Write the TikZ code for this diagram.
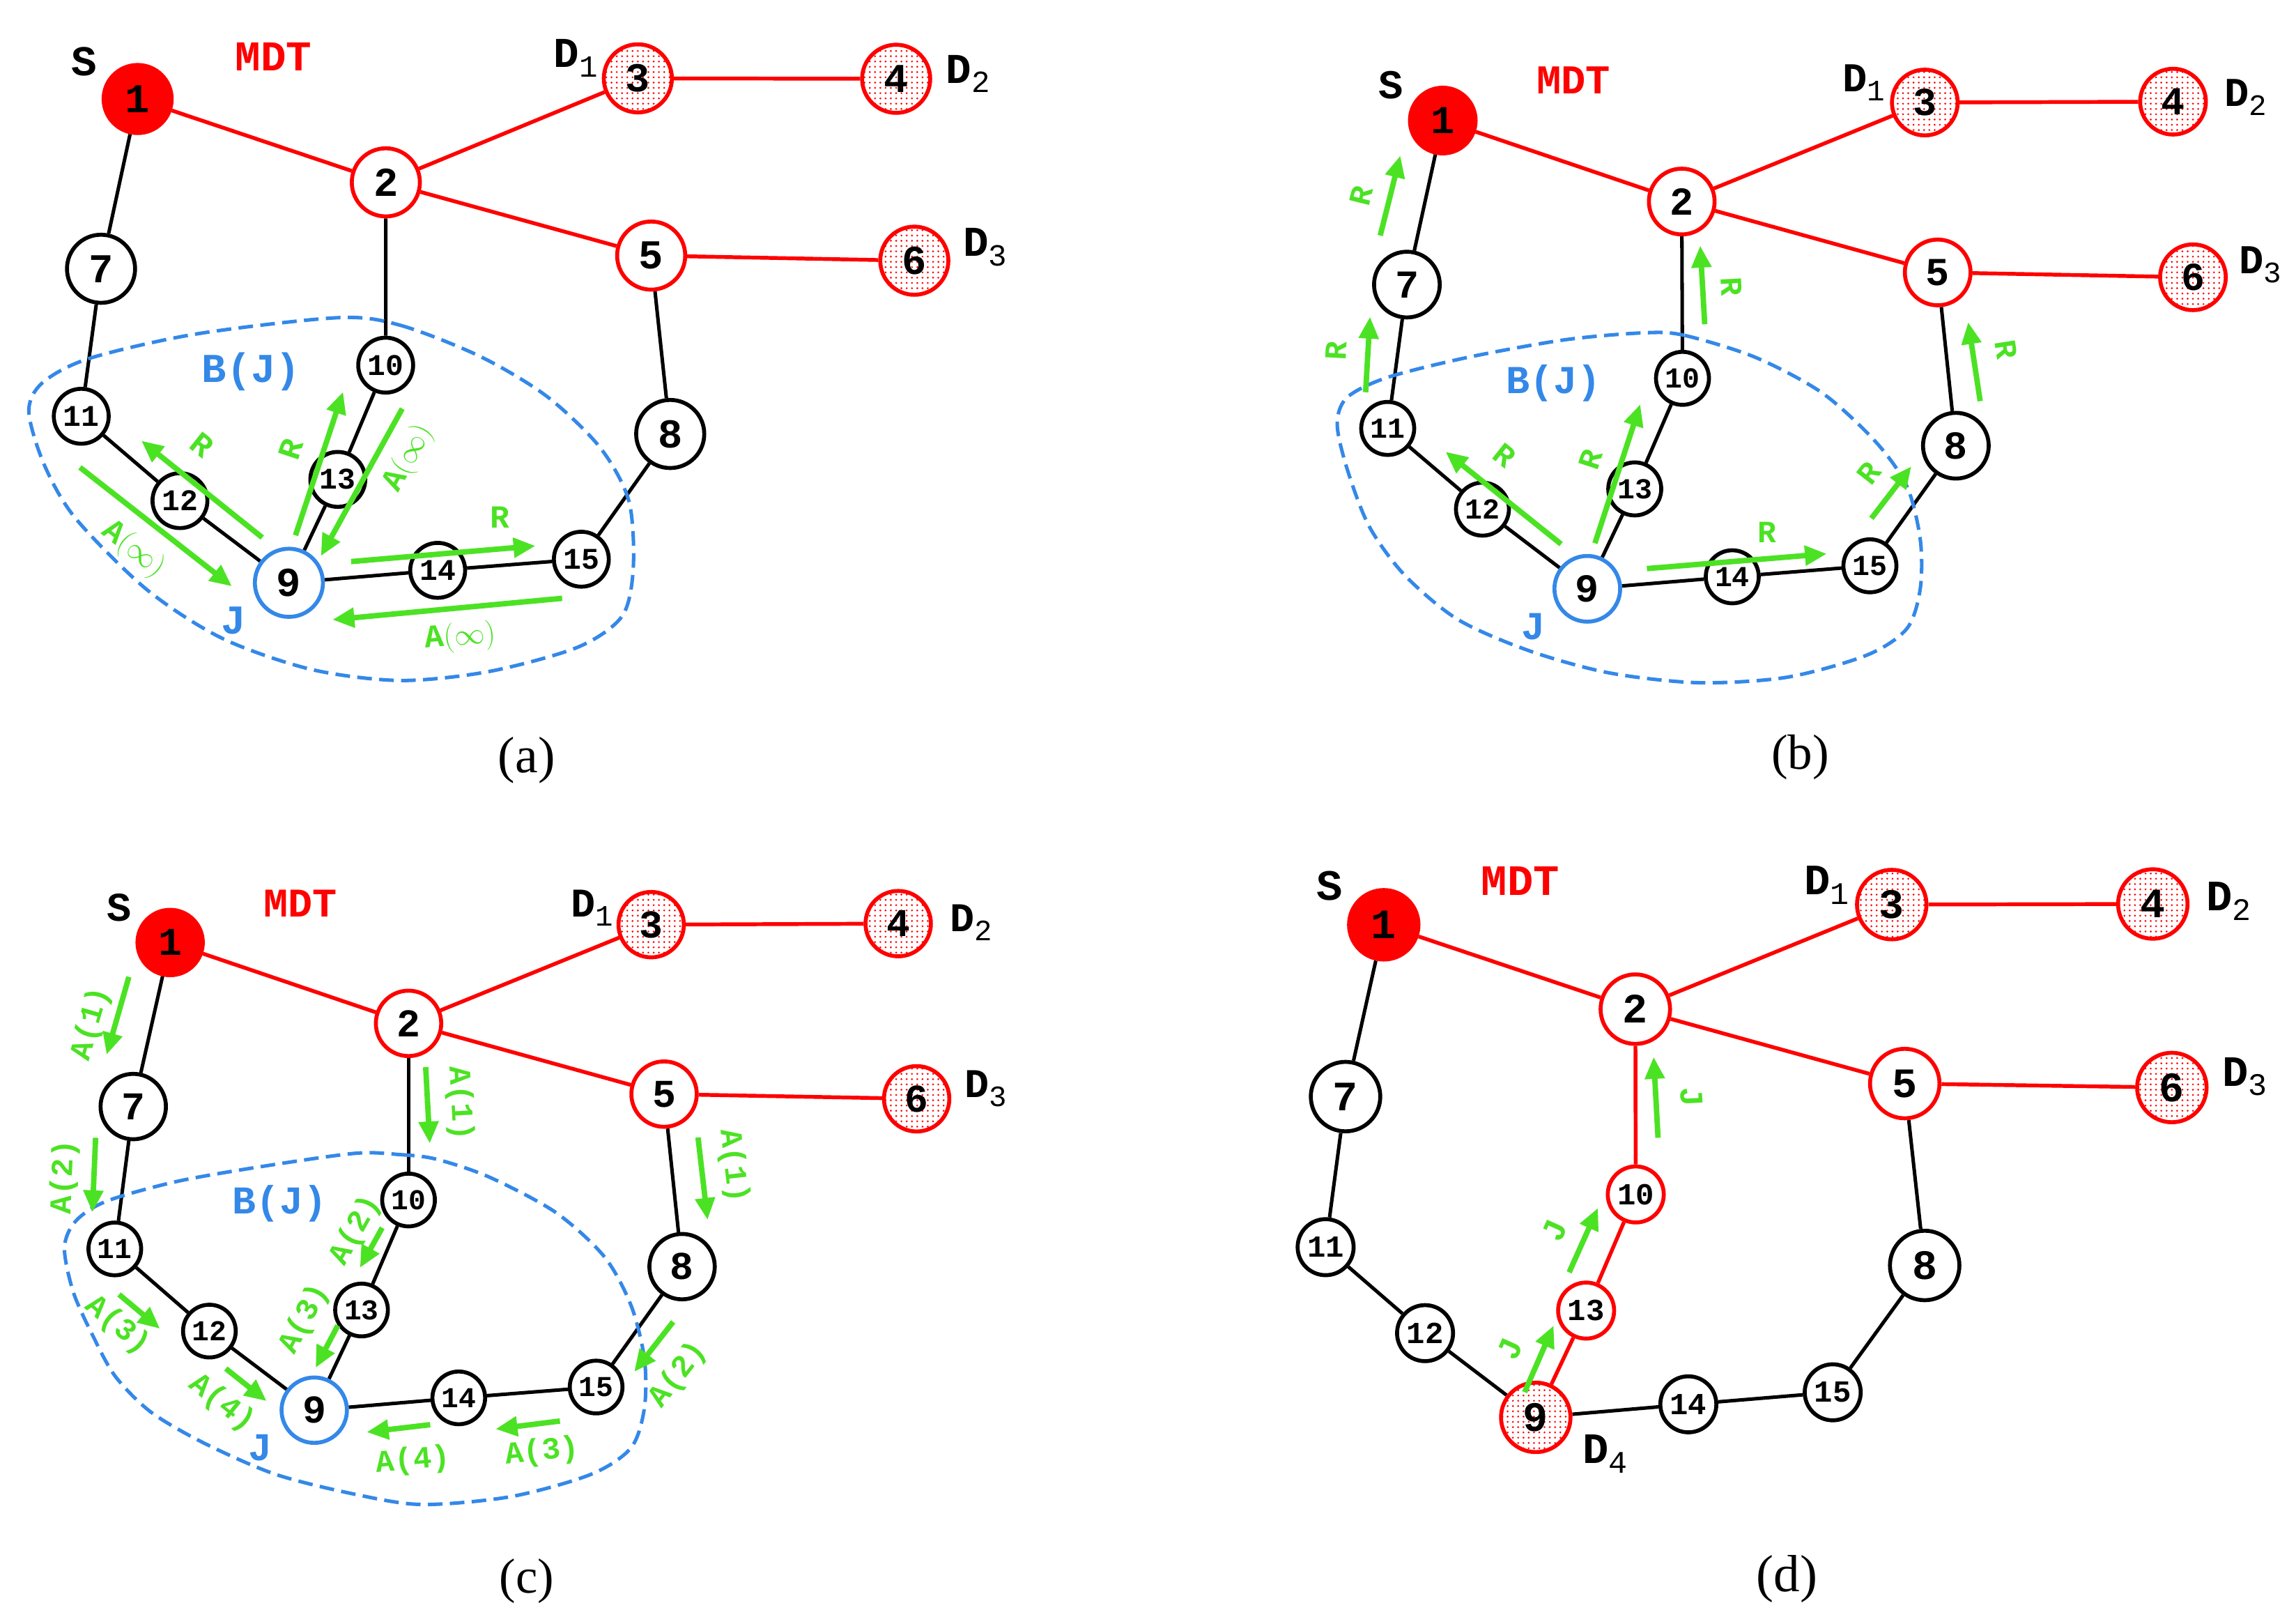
\documentclass[tikz,border=0pt]{standalone}
\usepackage{fontspec}
\setmonofont{Liberation Mono}
\newfontfamily\capfont{Liberation Serif}
\usetikzlibrary{arrows.meta,patterns.meta}
\definecolor{ggreen}{RGB}{76,226,36}
\definecolor{jblue}{RGB}{52,136,232}
\pgfdeclarelayer{bg}
\pgfdeclarelayer{mid}
\pgfsetlayers{bg,mid,main}
\newcommand\dsub[1]{\raisebox{-6.5pt}{\mdseries\fontsize{21}{21}\selectfont#1}}
\newcommand\garr[6]{%
  \coordinate (#1s) at (#2); \coordinate (#1e) at (#3);
  \draw[garrow] (#1s) -- (#1e);
  \node[glabel, rotate=#5] (#1l) at (#4) {#6};}
\newcommand\commonedges[1]{%
  \begin{pgfonlayer}{bg}
  \draw[redge] (#11) -- (#12);
  \draw[redge] (#12) -- (#13);
  \draw[redge] (#13) -- (#14);
  \draw[redge] (#12) -- (#15);
  \draw[redge] (#15) -- (#16);
  \draw[bedge] (#11) -- (#17);
  \draw[bedge] (#17) -- (#111);
  \draw[bedge] (#111) -- (#112);
  \draw[bedge] (#112) -- (#19);
  \draw[bedge] (#19) -- (#114);
  \draw[bedge] (#114) -- (#115);
  \draw[bedge] (#115) -- (#18);
  \draw[bedge] (#18) -- (#15);
  \end{pgfonlayer}}
\tikzset{
  big/.style={circle, draw=black, line width=2.7pt, minimum size=46.5pt, inner sep=0pt, fill=white,
    font=\ttfamily\bfseries\fontsize{28}{28}\selectfont},
  small/.style={big, minimum size=37.5pt, font=\ttfamily\bfseries\fontsize{20.5}{20.5}\selectfont},
  srcnode/.style={fill=red, draw=red},
  rednode/.style={draw=red},
  dstnode/.style={draw=red, pattern={Dots[distance=3.6pt, radius=0.7pt]}, pattern color=red},
  bluenode/.style={draw=jblue},
  bedge/.style={line width=2.4pt, black},
  redge/.style={line width=2.6pt, red},
  garrow/.style={line width=3.7pt, draw=ggreen, -{Triangle[length=15pt, width=13pt]}},
  glabel/.style={text=ggreen, inner sep=0pt, font=\ttfamily\bfseries\fontsize{22}{22}\selectfont},
  blab/.style={text=black, inner sep=0pt, font=\ttfamily\bfseries\fontsize{29}{29}\selectfont},
  mdt/.style={blab, text=red},
  bj/.style={text=jblue, inner sep=0pt, font=\ttfamily\bfseries\fontsize{28}{28}\selectfont},
  capt/.style={inner sep=0pt, font=\capfont\fontsize{35}{35}\selectfont},
  region/.style={draw=jblue, line width=2.4pt, dash pattern=on 10pt off 5pt}
}
\begin{document}
\begin{tikzpicture}[x=1pt, y=-1pt]
\useasboundingbox (0,0) rectangle (1568,1104);

% ================= panel (a) =================
\begin{scope}
\node[big,srcnode] (a1) at (94,67.6) {1};
\node[big,rednode] (a2) at (263.5,124.5) {2};
\node[big,dstnode] (a3) at (435.6,53.5) {3};
\node[big,dstnode] (a4) at (612,53.8) {4};
\node[big,rednode] (a5) at (444.7,174.5) {5};
\node[big,dstnode] (a6) at (624.4,178) {6};
\node[big] (a7) at (69,183.5) {7};
\node[big] (a8) at (457.7,296.3) {8};
\node[big,bluenode] (a9) at (197.3,397.9) {9};
\node[small] (a10) at (263.4,249.3) {10};
\node[small] (a11) at (55.5,284.2) {11};
\node[small] (a12) at (122.9,341.8) {12};
\node[small] (a13) at (230.7,327.3) {13};
\node[small] (a14) at (298.9,389.4) {14};
\node[small] (a15) at (397,381.8) {15};
\commonedges{a}
\begin{pgfonlayer}{bg}
\draw[bedge] (a9) -- (a13);
\draw[bedge] (a13) -- (a10);
\draw[bedge] (a10) -- (a2);
\end{pgfonlayer}
\begin{pgfonlayer}{mid}
\draw[region] plot[smooth cycle] coordinates {(230.7,216.9) (273.1,222) (327.8,243.3) (373.3,270.5) (409.7,305.4) (429.4,341.8) (432.5,387.3) (424.9,420.6) (394.5,441.9) (333.8,458.5) (273.1,464.6) (212.4,457) (151.7,435.8) (100.2,402.5) (51.6,353.9) (30.3,317.5) (19.7,281.2) (28.8,261.5) (60.7,244.8) (133.5,228.1)};
\end{pgfonlayer}
\node[blab] (aS) at (57.6,42) {S};
\node[mdt] (aM) at (186.7,38.7) {MDT};
\node[blab,anchor=base west] (aD1) at (378,46) {D\dsub{1}};
\node[blab,anchor=base west] (aD2) at (646,56.7) {D\dsub{2}};
\node[blab,anchor=base west] (aD3) at (657.5,175.1) {D\dsub{3}};
\node[bj] (aB) at (171.5,253.9) {B(J)};
\node[bj] (aJ) at (159.3,423.7) {J};
\node[capt] (aC) at (359.6,519.2) {(a)};
\garr{ga1}{179.1,367}{96.5,300.9}{138.1,303.9}{-38.7}{R}
\garr{ga2}{54.6,319.1}{158.4,400.3}{91,375.2}{-38}{A$(\infty)$}
\garr{ga3}{201.8,365.5}{234.3,267.5}{198.8,306.9}{71.7}{R}
\garr{ga4}{274.7,279}{219.1,379.7}{279.2,313}{61}{A$(\infty)$}
\garr{ga5}{239.8,383.4}{365.7,372.7}{341.4,353}{0}{R}
\garr{ga6}{383.9,408.5}{227,423.1}{314.1,435.2}{5}{A$(\infty)$}
\end{scope}

% ================= panel (b) =================
\begin{scope}[every node/.append style={scale=0.965}]
\node[big,srcnode] (b1) at (985.3,82.3) {1};
\node[big,rednode] (b2) at (1148.5,137.6) {2};
\node[big,dstnode] (b3) at (1314.5,70) {3};
\node[big,dstnode] (b4) at (1484,69.4) {4};
\node[big,rednode] (b5) at (1323.3,186) {5};
\node[big,dstnode] (b6) at (1497.6,189.3) {6};
\node[big] (b7) at (960.8,194.3) {7};
\node[big] (b8) at (1335.7,304.3) {8};
\node[big,bluenode] (b9) at (1084,402) {9};
\node[small] (b10) at (1149,258.3) {10};
\node[small] (b11) at (947.7,292.5) {11};
\node[small] (b12) at (1012.4,347.6) {12};
\node[small] (b13) at (1116.4,333.8) {13};
\node[small] (b14) at (1183,393.8) {14};
\node[small] (b15) at (1277,386.3) {15};
\commonedges{b}
\begin{pgfonlayer}{bg}
\draw[bedge] (b9) -- (b13);
\draw[bedge] (b13) -- (b10);
\draw[bedge] (b10) -- (b2);
\end{pgfonlayer}
\begin{pgfonlayer}{mid}
\draw[region] plot[smooth cycle] coordinates {(1123.2,227.2) (1150.5,229) (1199.1,244.1) (1244.6,268.4) (1281,301.7) (1302.3,332.1) (1311.4,368.4) (1311.4,401.8) (1302.3,429.1) (1274.9,447.3) (1220.3,462.4) (1159.6,466.1) (1098.9,459.4) (1044.3,444.3) (995.7,423) (959.3,392.7) (935,359.3) (919.9,319.9) (913.2,289.6) (919.9,271.4) (947.2,257.8) (1001.8,244.1) (1068.6,232)};
\end{pgfonlayer}
\node[blab] (bS) at (950,58) {S};
\node[mdt] (bM) at (1074.5,54.7) {MDT};
\node[blab,anchor=base west] (bD1) at (1258,62.7) {D\dsub{1}};
\node[blab,anchor=base west] (bD2) at (1519,72.7) {D\dsub{2}};
\node[blab,anchor=base west] (bD3) at (1529,186.8) {D\dsub{3}};
\node[bj] (bB) at (1061,261.7) {B(J)};
\node[bj] (bJ) at (1047.3,427.6) {J};
\node[capt] (bC) at (1229.4,517) {(b)};
\garr{gb1}{942.6,160.8}{956.3,106.2}{929.6,133.5}{76}{R}
\garr{gb2}{932.6,267.8}{935.6,216.2}{912.3,239.6}{87}{R}
\garr{gb3}{1164.2,221.4}{1161.1,167.7}{1182.4,195.6}{-87}{R}
\garr{gb4}{1352.3,273.9}{1344.1,219.9}{1370.3,238.5}{-81}{R}
\garr{gb5}{1066.1,371.5}{987.2,308.4}{1027.6,310.8}{-38.6}{R}
\garr{gb6}{1089.2,370.9}{1120.2,276}{1086.2,313.9}{72}{R}
\garr{gb7}{1124.7,388.2}{1247.6,378.1}{1206.6,363.3}{0}{R}
\garr{gb8}{1278,353.9}{1305.3,318.4}{1276.5,323}{52}{R}
\end{scope}

% ================= panel (c) =================
\begin{scope}[every node/.append style={scale=0.96}]
\node[big,srcnode] (c1) at (116.2,643.5) {1};
\node[big,rednode] (c2) at (279,698.7) {2};
\node[big,dstnode] (c3) at (444.7,631.3) {3};
\node[big,dstnode] (c4) at (613.4,630.6) {4};
\node[big,rednode] (c5) at (453.5,747) {5};
\node[big,dstnode] (c6) at (626,750.2) {6};
\node[big] (c7) at (91,755.5) {7};
\node[big] (c8) at (465.8,864.8) {8};
\node[big,bluenode] (c9) at (214.6,962.8) {9};
\node[small] (c10) at (279,819.3) {10};
\node[small] (c11) at (78.4,852.7) {11};
\node[small] (c12) at (143,908.8) {12};
\node[small] (c13) at (246.9,894.4) {13};
\node[small] (c14) at (313.3,954.4) {14};
\node[small] (c15) at (407.1,947) {15};
\commonedges{c}
\begin{pgfonlayer}{bg}
\draw[bedge] (c9) -- (c13);
\draw[bedge] (c13) -- (c10);
\draw[bedge] (c10) -- (c2);
\end{pgfonlayer}
\begin{pgfonlayer}{mid}
\draw[region] plot[smooth cycle] coordinates {(242.8,787.4) (273.1,788.3) (297.4,791.3) (333.8,803.5) (379.4,827.7) (412.7,858) (431,891.4) (440.1,927.8) (440.1,961.1) (431,988.4) (403.6,1006.6) (349,1021.8) (288.3,1027.2) (242.8,1020.3) (188.2,1006.6) (139.6,985.4) (103.2,964.2) (78.9,939.9) (63.7,912.6) (50.1,882.3) (44,852) (51.6,833.8) (72.8,820.1) (121.4,806.5) (182.1,795.9)};
\end{pgfonlayer}
\node[blab] (cS) at (81.6,619.7) {S};
\node[mdt] (cM) at (205.1,616.6) {MDT};
\node[blab,anchor=base west] (cD1) at (389.6,626) {D\dsub{1}};
\node[blab,anchor=base west] (cD2) at (648.5,635.9) {D\dsub{2}};
\node[blab,anchor=base west] (cD3) at (658.5,749.2) {D\dsub{3}};
\node[bj] (cB) at (191.2,821.7) {B(J)};
\node[bj] (cJ) at (177.5,988.4) {J};
\node[capt] (cC) at (359.6,1079.4) {(c)};
\garr{gc1}{88,667}{72.8,720.1}{62.2,698.9}{74}{A(1)}
\garr{gc2}{65.3,776.8}{63.1,827.7}{44,803.5}{87.5}{A(2)}
\garr{gc3}{290.7,728.6}{293.5,780.7}{314.1,753.4}{-87}{A(1)}
\garr{gc4}{476.7,776.6}{483.2,832.9}{500.8,796}{-83.4}{A(1)}
\garr{gc5}{261,838.3}{245.8,865.6}{242.8,839.9}{61}{A(2)}
\garr{gc6}{230.7,905}{215.5,933.9}{207.9,900.5}{62}{A(3)}
\garr{gc7}{81.3,883.8}{109.3,907.2}{80.4,905}{-40}{A(3)}
\garr{gc8}{154.2,934.4}{182.1,956.6}{151.7,958.1}{-38.5}{A(4)}
\garr{gc9}{293.8,972.7}{250.4,977.8}{282.2,997.5}{5}{A(4)}
\garr{gc10}{382.4,970.2}{338.4,975.7}{370.3,991.5}{6}{A(3)}
\garr{gc11}{459.7,902.5}{433.1,936.6}{463.2,938.4}{52}{A(2)}
\end{scope}

% ================= panel (d) =================
\begin{scope}[every node/.append style={scale=1.02}]
\node[big,srcnode] (d1) at (945,631.4) {1};
\node[big,rednode] (d2) at (1116.8,689) {2};
\node[big,dstnode] (d3) at (1291.9,617.6) {3};
\node[big,dstnode] (d4) at (1470.2,617.2) {4};
\node[big,rednode] (d5) at (1300.8,739.8) {5};
\node[big,dstnode] (d6) at (1483.2,742.5) {6};
\node[big] (d7) at (918.9,748.7) {7};
\node[big] (d8) at (1314.4,864) {8};
\node[big,dstnode] (d9) at (1048.8,967.7) {9};
\node[small,rednode] (d10) at (1117.1,815.5) {10};
\node[small] (d11) at (905.3,851.5) {11};
\node[small] (d12) at (973.2,910.2) {12};
\node[small,rednode] (d13) at (1083.2,894.8) {13};
\node[small] (d14) at (1153,958.8) {14};
\node[small] (d15) at (1251.6,950.6) {15};
\commonedges{d}
\begin{pgfonlayer}{bg}
\draw[redge] (d9) -- (d13);
\draw[redge] (d13) -- (d10);
\draw[redge] (d10) -- (d2);
\end{pgfonlayer}
\node[blab] (dS) at (908,604.8) {S};
\node[mdt] (dM) at (1038.3,601.3) {MDT};
\node[blab,anchor=base west] (dD1) at (1232,610.6) {D\dsub{1}};
\node[blab,anchor=base west] (dD2) at (1506.6,621.8) {D\dsub{2}};
\node[blab,anchor=base west] (dD3) at (1517.6,741.4) {D\dsub{3}};
\node[blab,anchor=base west] (dD4) at (1080.7,999) {D\dsub{4}};
\node[capt] (dC) at (1220.3,1077.9) {(d)};
\garr{gd1}{1132.3,776.8}{1129.3,721.6}{1155.1,748.9}{-87}{J}
\garr{gd2}{1071.6,868.7}{1091.3,824.7}{1061.9,839.9}{66}{J}
\garr{gd3}{1041.2,950.5}{1061,905}{1031.2,921.1}{66}{J}
\end{scope}
\end{tikzpicture}
\end{document}
